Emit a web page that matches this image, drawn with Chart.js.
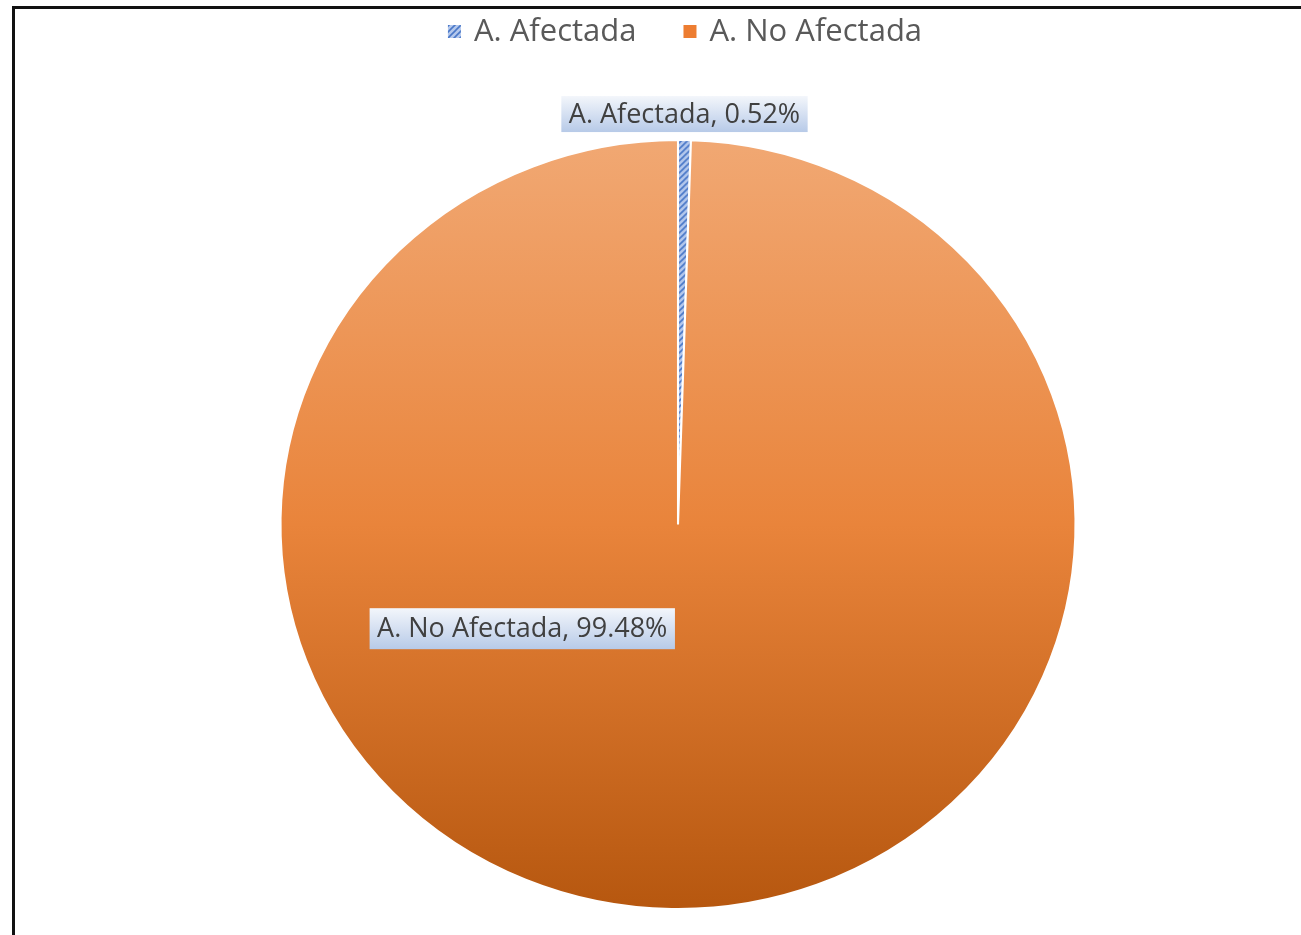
<!DOCTYPE html>
<html>
<head>
<meta charset="utf-8">
<script src="https://cdn.jsdelivr.net/npm/chart.js@4.4.1/dist/chart.umd.min.js"></script>
<style>
  html, body { margin: 0; padding: 0; background: #fff; }
  canvas { display: block; }
</style>
</head>
<body>
<canvas id="areaPie" width="1301" height="935"></canvas>
<script>
var labels = ["A. Afectada", "A. No Afectada"];
var shares = [0.52, 99.48];

var canvas = document.getElementById("areaPie");
var ctx = canvas.getContext('2d');
var fontFamily = "'Open Sans', 'Noto Sans', sans-serif";

// diagonal hatch used for the small slice and its legend key
function hatch() {
  var p = document.createElement('canvas');
  p.width = 6; p.height = 6;
  var c = p.getContext('2d');
  c.fillStyle = '#b4c8ec';
  c.fillRect(0, 0, 6, 6);
  c.strokeStyle = '#4a78c8';
  c.lineWidth = 1.6;
  c.beginPath();
  c.moveTo(-1, 7); c.lineTo(7, -1);
  c.moveTo(-4, 4); c.lineTo(4, -4);
  c.moveTo(2, 10); c.lineTo(10, 2);
  c.stroke();
  return ctx.createPattern(p, 'repeat');
}
var hatchFill = hatch();

function sliceFill(context) {
  if (context.dataIndex === 0) return hatchFill;
  var area = context.chart.chartArea;
  if (!area) return '#ed7d31';
  var g = ctx.createLinearGradient(0, area.top, 0, area.bottom);
  g.addColorStop(0, '#f1a873');
  g.addColorStop(0.5, '#e9843b');
  g.addColorStop(1, '#b6570f');
  return g;
}

// Excel draws this pie slightly wider than tall
var stretchX = 397 / 384;

var piePlugin = {
  id: 'piePlugin',
  beforeDraw: function(chart) {
    var c = chart.ctx;
    c.save();
    c.fillStyle = '#fff';
    c.fillRect(0, 0, chart.width, chart.height);
    c.fillStyle = '#111';
    c.fillRect(12, 6, chart.width - 12, 3);
    c.fillRect(12, 6, 3, chart.height - 6);
    c.restore();
  },
  beforeDatasetsDraw: function(chart) {
    var arc = chart.getDatasetMeta(0).data[0];
    var c = chart.ctx;
    c.save();
    c.translate(arc.x, arc.y);
    c.scale(stretchX, 1);
    c.translate(-arc.x, -arc.y);
  },
  afterDatasetsDraw: function(chart) {
    var c = chart.ctx;
    c.restore();

    var meta = chart.getDatasetMeta(0);
    var ds = chart.data.datasets[0];
    c.save();
    c.font = '27px ' + fontFamily;
    c.textBaseline = 'middle';
    c.textAlign = 'center';
    meta.data.forEach(function(arc, i) {
      var text = chart.data.labels[i] + ', ' + ds.data[i].toFixed(2) + '%';
      var r = arc.outerRadius;
      var cx, cy;
      if (i === 0) {
        var mid = (arc.startAngle + arc.endAngle) / 2;
        cx = arc.x + Math.cos(mid) * r * stretchX;
        cy = arc.y + Math.sin(mid) * r - 26;
      } else {
        cx = arc.x - r * 0.405;
        cy = arc.y + r * 0.271;
      }
      var w = c.measureText(text).width + 15;
      var h = i === 0 ? 36 : 41;
      var g = c.createLinearGradient(0, cy - h / 2, 0, cy + h / 2);
      g.addColorStop(0, '#f3f6fb');
      g.addColorStop(1, '#b7cae8');
      c.fillStyle = g;
      c.fillRect(cx - w / 2, cy - h / 2, w, h);
      c.fillStyle = '#404040';
      c.fillText(text, cx, cy + 1);
    });

    // legend across the top
    c.font = '31px ' + fontFamily;
    c.textAlign = 'left';
    var box = 13, gapText = 13, gapItem = 47;
    var widths = chart.data.labels.map(function(l) { return c.measureText(l).width; });
    var total = 0;
    widths.forEach(function(wd, i) { total += box + gapText + wd + (i ? gapItem : 0); });
    var x = 685 - total / 2;
    var keys = [hatchFill, '#ed7d31'];
    chart.data.labels.forEach(function(l, i) {
      c.fillStyle = keys[i];
      c.fillRect(x, 25, box, box);
      x += box + gapText;
      c.fillStyle = '#595959';
      c.fillText(l, x, 32);
      x += widths[i] + gapItem;
    });
    c.restore();
  }
};

new Chart(ctx, {
  type: 'pie',
  data: {
    labels: labels,
    datasets: [{
      data: shares,
      backgroundColor: sliceFill,
      borderColor: '#ffffff',
      borderWidth: 2,
      hoverOffset: 0
    }]
  },
  options: {
    responsive: false,
    animation: false,
    devicePixelRatio: 1,
    rotation: 0,
    layout: { padding: { top: 139, bottom: 25, left: 100, right: 45 } },
    plugins: {
      legend: { display: false },
      tooltip: { enabled: false }
    }
  },
  plugins: [piePlugin]
});
</script>
</body>
</html>
